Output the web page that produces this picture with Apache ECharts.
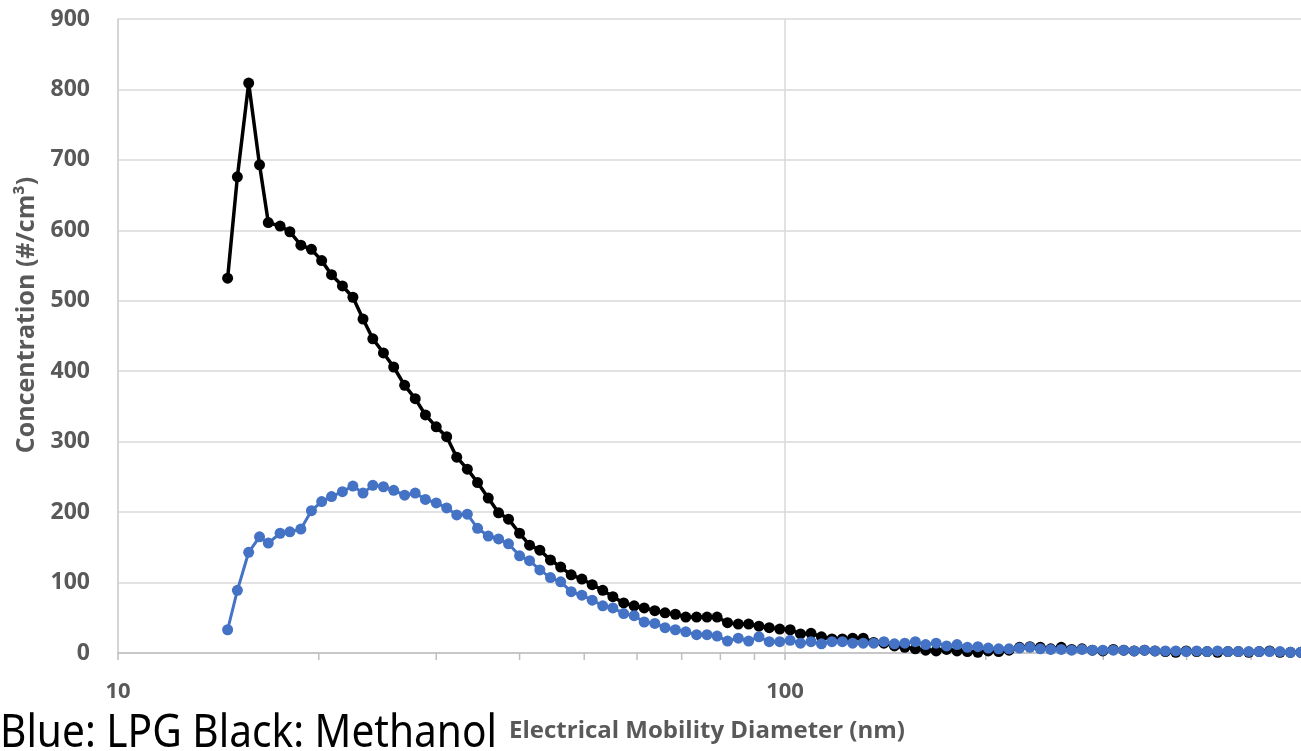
<!DOCTYPE html>
<html>
<head>
<meta charset="utf-8">
<script src="https://cdn.jsdelivr.net/npm/echarts@6/dist/echarts.min.js"></script>
<style>
html,body{margin:0;padding:0;background:#fff;}
#chart{width:1301px;height:751px;}
</style>
</head>
<body>
<div id="chart"></div>
<script>
// Electrical mobility diameters (nm), SMPS channel midpoints
const diameters = [14.6,15.1,15.7,16.3,16.8,17.5,18.1,18.8,19.5,20.2,20.9,21.7,22.5,23.3,24.1,25.0,25.9,26.9,27.9,28.9,30.0,31.1,32.2,33.4,34.6,35.9,37.2,38.5,40.0,41.4,42.9,44.5,46.1,47.8,49.6,51.4,53.3,55.2,57.3,59.4,61.5,63.8,66.1,68.5,71.0,73.7,76.4,79.1,82.0,85.1,88.2,91.4,94.7,98.2,101.8,105.5,109.4,113.4,117.6,121.9,126.3,131.0,135.8,140.7,145.9,151.2,156.8,162.5,168.5,174.7,181.1,187.7,194.6,201.7,209.1,216.7,224.7,232.9,241.4,250.3,259.5,269.0,278.8,289.0,299.6,310.6,322.0,333.8,346.0,358.7,371.8,385.4,399.5,414.2,429.4,445.1,461.4,478.3,495.8,514.0,532.8,552.3,572.5,593.5];

// Methanol (black)
const methanol = [532,676,809,693,611,606,598,579,573,557,537,521,505,474,446,426,406,380,361,338,321,307,278,261,242,220,199,190,170,153,146,132,122,111,105,97,89,80,71,67,64,60,57,55,51,51,51,51,43,41,41,38,36,34,33,27,28,23,20,20,21,21,15,14,10,8,6,4,3,5,3,2,1,3,2,4,8,9,8,6,8,5,6,4,3,5,4,3,4,3,2,1,3,2,2,1,2,2,1,2,3,1,1,1];

// LPG (blue)
const lpg = [33,89,143,165,156,170,172,176,202,215,222,229,237,227,238,236,231,224,227,218,213,206,196,197,177,166,162,155,138,131,118,107,101,87,82,75,67,64,56,53,44,42,36,33,30,26,26,24,17,21,17,23,16,16,18,14,16,13,16,16,14,14,14,16,13,14,16,12,14,10,12,8,9,7,6,6,7,8,6,5,5,4,5,4,4,4,4,3,4,3,3,3,2,3,2,3,2,2,2,2,2,2,1,1];

const yTicks = [0,100,200,300,400,500,600,700,800,900];
const xMajorTicks = [10,100,1000];
const xMinorTicks = [20,30,40,50,60,70,80,90,200,300,400,500,600,700,800,900];

const bottomNote = 'Blue: LPG Black: Methanol';

const chart = echarts.init(document.getElementById('chart'), null, {renderer:'canvas'});

// fit bottom note width
const cv = document.createElement('canvas').getContext('2d');
cv.font = '45px "Noto Sans"';
const noteScale = 497 / cv.measureText(bottomNote).width;

const gray = '#595959';
const option = {
  animation:false,
  grid:{left:118, top:19, width:1334, height:634, containLabel:false, outerBoundsMode:'none'},
  xAxis:{
    type:'log', logBase:10, min:10, max:1000,
    name:'Electrical Mobility Diameter (nm)',
    nameLocation:'middle', nameGap:66,
    nameTextStyle:{fontFamily:'Open Sans', fontWeight:'bold', fontSize:24, color:gray, padding:[0,156,0,0]},
    axisLine:{show:true, lineStyle:{color:'#bfbfbf', width:1.5}},
    axisTick:{show:true, length:7, lineStyle:{color:'#bfbfbf', width:1.5}},
    axisLabel:{margin:28, fontFamily:'Open Sans', fontWeight:'bold', fontSize:22, color:gray,
      formatter:function(v){ return xMajorTicks.indexOf(Math.round(v))>=0 ? String(Math.round(v)) : ''; }},
    splitLine:{show:true, lineStyle:{color:'#d9d9d9', width:1.5}},
    minorTick:{show:false}
  },
  yAxis:{
    type:'value', min:yTicks[0], max:yTicks[yTicks.length-1], interval:100,
    name:'Concentration (#/cm³)',
    nameLocation:'middle', nameGap:75,
    nameTextStyle:{fontFamily:'Open Sans', fontWeight:'bold', fontSize:25, color:gray, padding:[0,0,0,42]},
    axisLine:{show:true, lineStyle:{color:'#d0d0d0', width:1.5}},
    axisTick:{show:false},
    axisLabel:{margin:28, fontFamily:'Open Sans', fontWeight:'bold', fontSize:23, color:gray},
    splitLine:{show:true, lineStyle:{color:'#d9d9d9', width:1.5}}
  },
  series:[
    {
      name:'Methanol', type:'line',
      data: diameters.map((d,i)=>[d, methanol[i]]),
      symbol:'circle', symbolSize:11, showSymbol:true,
      itemStyle:{color:'#000000'},
      lineStyle:{color:'#000000', width:3.5},
      z:3
    },
    {
      name:'LPG', type:'line',
      data: diameters.map((d,i)=>[d, lpg[i]]),
      symbol:'circle', symbolSize:11, showSymbol:true,
      itemStyle:{color:'#4472C4'},
      lineStyle:{color:'#4472C4', width:3},
      z:4
    },
    {
      name:'minorTicks', type:'custom', silent:true, clip:false,
      data: xMinorTicks.map(v=>[v]),
      encode:{x:0},
      renderItem:function(params, api){
        const p = api.coord([api.value(0), 0]);
        return {type:'line', shape:{x1:p[0], y1:p[1], x2:p[0], y2:p[1]+7},
          style:{stroke:'#bfbfbf', lineWidth:1.5}};
      },
      z:1
    }
  ],
  graphic:[
    {
      type:'text', x:0, y:734, scaleX:noteScale, scaleY:1,
      style:{text:bottomNote, font:'45px "Noto Sans"', fill:'#000', verticalAlign:'middle', align:'left'}
    }
  ]
};
chart.setOption(option);
</script>
</body>
</html>
